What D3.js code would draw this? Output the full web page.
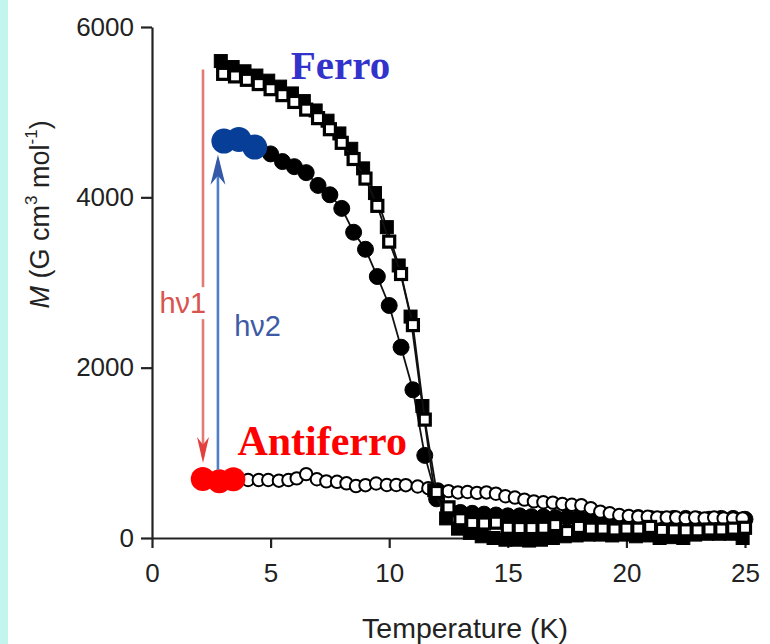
<!DOCTYPE html>
<html>
<head>
<meta charset="utf-8">
<script src="https://cdn.jsdelivr.net/npm/d3@7"></script>
<style>
  html, body { margin: 0; padding: 0; background: #ffffff; }
  svg { display: block; }
</style>
</head>
<body>
<svg id="chart" width="770" height="644"></svg>
<script>
// ---------------- DATA ----------------
const xTicks = [0, 5, 10, 15, 20, 25];
const yTicks = [0, 2000, 4000, 6000];

// open squares [T (K), M]
const openSquares = [
  [3.0,5450],[3.5,5420],[4.0,5380],[4.5,5330],[5.0,5270],[5.5,5200],[6.0,5120],[6.5,5030],
  [7.0,4930],[7.5,4800],[8.0,4640],[8.5,4450],[9.0,4220],[9.5,3900],[10.0,3480],[10.5,3100],
  [11.0,2500],[11.5,1390],[12.0,540],[12.5,360],[13.0,220],[13.5,176],[14.0,170],[14.5,180],
  [15.0,120],[15.5,117],[16.0,117],[16.5,120],[17.0,152],[17.5,70],[18.0,130],[18.5,110],
  [19.0,110],[19.5,100],[20.0,110],[20.5,110],[21.0,130],[21.5,95],[22.0,90],[22.5,90],
  [23.0,90],[23.5,100],[24.0,100],[24.5,110],[25.0,120]
];
// filled squares
const filledSquares = [
  [2.9,5600],[3.4,5530],[3.9,5480],[4.4,5430],[4.9,5370],[5.4,5300],[5.9,5220],[6.4,5130],
  [6.9,5020],[7.4,4900],[7.9,4750],[8.4,4570],[8.9,4340],[9.4,4050],[9.9,3650],[10.4,3200],
  [10.9,2600],[11.4,1550],[11.9,560],[12.4,230],[12.9,110],[13.4,60],[13.9,20],[14.4,0],
  [14.9,-20],[15.4,-20],[15.9,-30],[16.4,-20],[16.9,0],[17.4,20],[17.9,30],[18.4,40],
  [18.9,40],[19.4,30],[19.9,40],[20.4,20],[20.9,30],[21.4,0],[21.9,10],[22.4,0],
  [22.9,40],[23.4,50],[23.9,50],[24.4,50],[24.9,0]
];
// filled circles
const filledCircles = [
  [3.0,4660],[3.5,4680],[4.0,4630],[4.5,4580],[5.0,4510],[5.5,4420],[6.0,4360],[6.5,4290],
  [7.0,4140],[7.5,4030],[8.0,3870],[8.5,3590],[9.0,3390],[9.5,3070],[10.0,2730],[10.5,2240],
  [11.0,1740],[11.5,970],[12.0,460],[12.5,330],[13.0,300],[13.5,290],[14.0,280],[14.5,270],
  [15.0,260],[15.5,260],[16.0,250],[16.5,250],[17.0,240],[17.5,240],[18.0,240],[18.5,230],
  [19.0,240],[19.5,230],[20.0,230],[20.5,240],[21.0,230],[21.5,220],[22.0,230],[22.5,230],
  [23.0,220],[23.5,220],[24.0,230],[24.5,230],[25.0,220]
];
// open circles
const openCircles = [
  [2.2,690],[2.8,680],[3.25,690],[3.65,690],[4.05,681],[4.5,681],[4.9,681],[5.35,673],
  [5.75,681],[6.1,700],[6.5,750],[6.95,690],[7.35,665],[7.8,660],[8.2,642],[8.6,610],
  [9.0,620],[9.45,640],[9.9,622],[10.3,622],[10.7,620],[11.2,605],[11.65,585],[12.05,570],
  [12.5,550],[12.9,535],[13.3,540],[13.7,530],[14.1,535],[14.5,520],[14.9,490],[15.3,475],
  [15.7,450],[16.1,430],[16.5,420],[16.9,415],[17.3,400],[17.7,390],[18.1,385],[18.5,350],
  [18.9,310],[19.3,290],[19.7,270],[20.1,260],[20.5,250],[20.9,250],[21.3,240],[21.7,240],
  [22.1,240],[22.5,230],[22.9,240],[23.3,230],[23.7,240],[24.1,230],[24.5,230],[24.9,230]
];
// highlighted states
const ferroPoints = [[3.03,4660],[3.66,4680],[4.33,4590]];
const antiferroPoints = [[2.14,693],[2.84,665],[3.43,690]];

// arrows [T, M start, M end]
const arrowHv1 = [2.15, 5500, 880];
const arrowHv2 = [2.78, 800, 4500];

// text labels [T, M, text]
const labelFerro = [5.85, 5390, "Ferro"];
const labelAntiferro = [3.6, 980, "Antiferro"];
const labelHv1 = [1.3, 2640, "hν1"];
const labelHv2 = [4.45, 2370, "hν2"];

// ---------------- CHART ----------------
const svg = d3.select("#chart");
svg.append("rect").attr("x", 0).attr("y", 0).attr("width", 770).attr("height", 644).attr("fill", "#ffffff");
svg.append("rect").attr("x", 0).attr("y", 0).attr("width", 8).attr("height", 644).attr("fill", "#c2f5ee");

const x = d3.scaleLinear().domain([0, 25]).range([152, 745]);
const y = d3.scaleLinear().domain([0, 6000]).range([538, 27]);

const FONT = "'Liberation Sans', Arial, Helvetica, sans-serif";
const SERIF = "'Liberation Serif', 'Times New Roman', serif";

// axes
const yAxis = d3.axisLeft(y).tickValues(yTicks).tickSize(11).tickSizeOuter(0).tickPadding(7).tickFormat(d3.format("d"));
const gy = svg.append("g").attr("transform", `translate(${x(0)},0)`).call(yAxis);
const xAxis = d3.axisBottom(x).tickValues(xTicks).tickSize(10).tickSizeOuter(0).tickPadding(16).tickFormat(d3.format("d"));
const gx = svg.append("g").attr("transform", `translate(0,${y(0)})`).call(xAxis);
[gx, gy].forEach(g => {
  g.select(".domain").attr("stroke", "#222").attr("stroke-width", 2.2);
  g.selectAll(".tick line").attr("stroke", "#222").attr("stroke-width", 2.2);
  g.selectAll("text").attr("font-family", FONT).attr("font-size", 26).attr("fill", "#222");
});

// axis titles
svg.append("text")
  .attr("x", 465).attr("y", 638)
  .attr("text-anchor", "middle")
  .attr("font-family", FONT).attr("font-size", 28.5).attr("fill", "#222")
  .text("Temperature (K)");

const yt = svg.append("text")
  .attr("transform", `translate(49,${y(3800)}) rotate(-90)`)
  .attr("text-anchor", "middle")
  .attr("font-family", FONT).attr("font-size", 27).attr("fill", "#222");
yt.append("tspan").attr("font-style", "italic").text("M");
yt.append("tspan").text(" (G cm");
yt.append("tspan").attr("font-size", 17).attr("dy", -12).text("3");
yt.append("tspan").attr("dy", 12).text(" mol");
yt.append("tspan").attr("font-size", 17).attr("dy", -12).text("-1");
yt.append("tspan").attr("dy", 12).text(")");

const line = d3.line().x(d => x(d[0])).y(d => y(d[1]));

function series(data, kind, filled) {
  const g = svg.append("g");
  g.append("path").datum(data).attr("d", line).attr("fill", "none").attr("stroke", "#111").attr("stroke-width", 1.8);
  if (kind === "square") {
    const s = filled ? 13 : 11;
    g.selectAll("rect").data(data).join("rect")
      .attr("x", d => x(d[0]) - s / 2).attr("y", d => y(d[1]) - s / 2)
      .attr("width", s).attr("height", s)
      .attr("fill", filled ? "#000" : "#fff")
      .attr("stroke", "#000").attr("stroke-width", filled ? 1 : 3.2);
  } else {
    g.selectAll("circle").data(data).join("circle")
      .attr("cx", d => x(d[0])).attr("cy", d => y(d[1]))
      .attr("r", filled ? 8 : 6.2)
      .attr("fill", filled ? "#000" : "#fff")
      .attr("stroke", "#000").attr("stroke-width", filled ? 1 : 2);
  }
}

series(filledCircles, "circle", true);
series(openCircles, "circle", false);
series(filledSquares, "square", true);
series(openSquares, "square", false);

// highlighted states
svg.append("g").selectAll("circle").data(ferroPoints).join("circle")
  .attr("cx", d => x(d[0])).attr("cy", d => y(d[1])).attr("r", 12.5).attr("fill", "#073f98");
svg.append("g").selectAll("circle").data(antiferroPoints).join("circle")
  .attr("cx", d => x(d[0])).attr("cy", d => y(d[1])).attr("r", 12).attr("fill", "#ff0000");

// arrows
function arrow(a, lineColor, headColor, hw, hl) {
  const ax = x(a[0]), y0 = y(a[1]), y1 = y(a[2]);
  const dir = y1 > y0 ? 1 : -1;
  svg.append("line").attr("x1", ax).attr("x2", ax).attr("y1", y0).attr("y2", y1 - dir * 6)
    .attr("stroke", lineColor).attr("stroke-width", 2.6);
  const p = d3.path();
  p.moveTo(ax, y1);
  p.lineTo(ax - hw, y1 - dir * hl);
  p.lineTo(ax, y1 - dir * hl * 0.7);
  p.lineTo(ax + hw, y1 - dir * hl);
  p.closePath();
  svg.append("path").attr("d", p.toString()).attr("fill", headColor);
}
arrow(arrowHv1, "#e27a78", "#e2403c", 6, 26);
arrow(arrowHv2, "#4f7ec9", "#3559a8", 7.5, 30);

// hv labels
const h1 = svg.append("text")
  .attr("x", x(labelHv1[0])).attr("y", y(labelHv1[1]))
  .attr("text-anchor", "middle")
  .attr("font-family", FONT).attr("font-size", 29).attr("fill", "#d9534f")
  .text(labelHv1[2]);
const bb = h1.node().getBBox();
svg.insert("rect", () => h1.node())
  .attr("x", bb.x - 2).attr("y", bb.y).attr("width", bb.width + 4).attr("height", bb.height)
  .attr("fill", "#fff");
svg.append("text")
  .attr("x", x(labelHv2[0])).attr("y", y(labelHv2[1]))
  .attr("text-anchor", "middle")
  .attr("font-family", FONT).attr("font-size", 29).attr("fill", "#3d5aa6")
  .text(labelHv2[2]);

// state labels
svg.append("text")
  .attr("x", x(labelFerro[0])).attr("y", y(labelFerro[1]))
  .attr("font-family", SERIF).attr("font-weight", "bold").attr("font-size", 41).attr("fill", "#3333cc")
  .text(labelFerro[2]);
svg.append("text")
  .attr("x", x(labelAntiferro[0])).attr("y", y(labelAntiferro[1]))
  .attr("font-family", SERIF).attr("font-weight", "bold").attr("font-size", 42).attr("fill", "#ff0000")
  .text(labelAntiferro[2]);
</script>
</body>
</html>
